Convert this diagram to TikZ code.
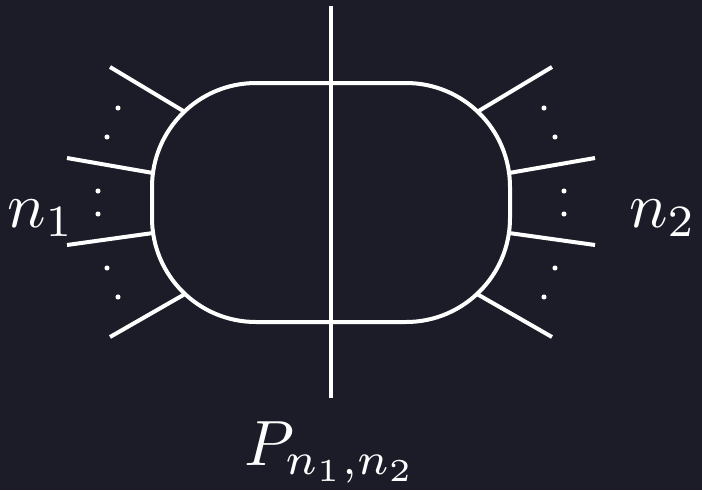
\documentclass[tikz,border=0pt]{standalone}
\definecolor{bg}{HTML}{1C1C28}
\tikzset{
  wire/.style={draw=white, line width=3pt},
  dotmark/.style={fill=white},
  lbl/.style={text=white, inner sep=0pt, anchor=base west, font=\normalsize, scale=4.8}
}
\begin{document}
\begin{tikzpicture}[x=0.75pt, y=-0.75pt]
  \fill[bg] (0,0) rectangle (702,490);
  \useasboundingbox (0,0) rectangle (702,490);
  % blob
  \draw[wire, rounded corners=78pt] (152,83) rectangle (510,322);
  % cut line
  \coordinate (ctop) at (331,6);
  \coordinate (cbot) at (331,398);
  \draw[wire] (ctop) -- (cbot);
  % left legs
  \draw[wire] (110,67) -- (185,112);
  \draw[wire] (67,158) -- (153,173);
  \draw[wire] (67,245) -- (153,233);
  \draw[wire] (110,337) -- (185,294);
  % right legs
  \draw[wire] (552,67) -- (477,112);
  \draw[wire] (595,158) -- (509,173);
  \draw[wire] (595,245) -- (509,233);
  \draw[wire] (552,337) -- (477,294);
  % dots
  \foreach \x/\y in {118/108,107/137,98/191,98/214,107/268,118/297,
                     544/108,555/137,564/191,564/214,555/268,544/297}
    \fill[dotmark] (\x,\y) circle (1.9pt);
  % labels
  \node[lbl] (n1) at (6,227) {$n_1$};
  \node[lbl] (n2) at (628,227) {$n_2$};
  \node[lbl] (P) at (243,465) {$P_{n_1,n_2}$};
\end{tikzpicture}
\end{document}
